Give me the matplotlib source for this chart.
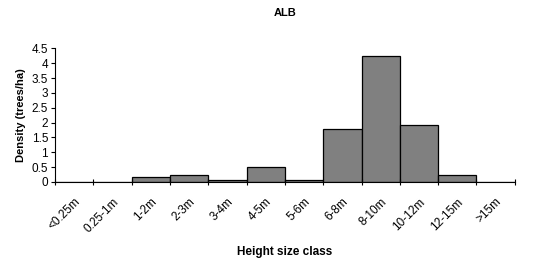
import numpy as np
import matplotlib.pyplot as plt

plt.rcParams["font.family"] = "Liberation Sans"

# data
classes = ["<0.25m", "0.25-1m", "1-2m", "2-3m", "3-4m", "4-5m", "5-6m",
           "6-8m", "8-10m", "10-12m", "12-15m", ">15m"]
density = [0, 0, 0.16, 0.25, 0.08, 0.5, 0.08, 1.77, 4.25, 1.91, 0.24, 0]

fig = plt.figure(figsize=(5.5, 2.6), dpi=100)
ax = fig.add_axes([0.1, 0.3, 0.836, 0.514])

x = np.arange(len(classes))
ax.bar(x + 0.5, density, width=1.0, color="#808080", edgecolor="black", linewidth=0.9)

ax.set_xlim(0, len(classes))
ax.set_ylim(0, 4.5)
ax.set_yticks(np.arange(0, 4.51, 0.5))
ax.set_yticklabels(["0", "0.5", "1", "1.5", "2", "2.5", "3", "3.5", "4", "4.5"], fontsize=8.5)

ax.set_xticks(np.arange(len(classes) + 1))
ax.set_xticklabels([])
ax.set_xticks(x + 0.5, minor=True)
ax.set_xticklabels(classes, minor=True, rotation=45, ha="right", rotation_mode="anchor", fontsize=8.5)
ax.tick_params(axis="x", which="minor", length=0, pad=10)
ax.tick_params(axis="x", which="major", length=5, direction="inout", width=0.8)
ax.tick_params(axis="y", length=3, width=0.8, pad=2)

ax.spines["top"].set_visible(False)
ax.spines["right"].set_visible(False)

ax.set_ylabel("Density (trees/ha)", fontsize=8, fontweight="bold")
ax.set_xlabel("Height size class", fontsize=8.5, fontweight="bold", labelpad=8)
ax.set_title("ALB", fontsize=8, fontweight="bold", pad=23)

fig.savefig("out.png", dpi=100)
